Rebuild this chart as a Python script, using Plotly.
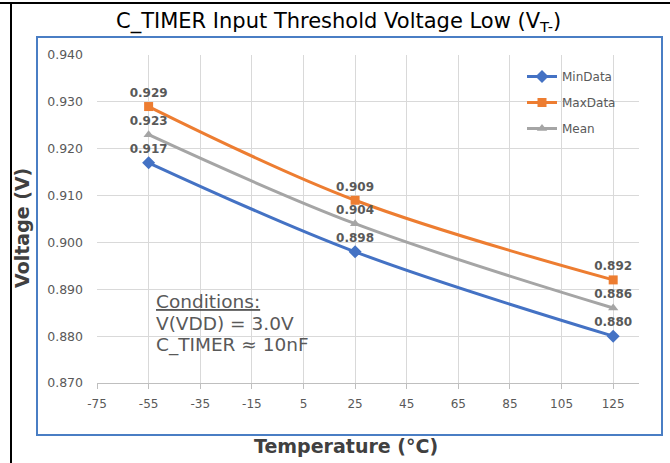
import plotly.graph_objects as go

temps = [-55, 25, 125]
min_data = [0.917, 0.898, 0.880]
max_data = [0.929, 0.909, 0.892]
mean_data = [0.923, 0.904, 0.886]
x_ticks = [-75, -55, -35, -15, 5, 25, 45, 65, 85, 105, 125]
y_ticks = [0.870, 0.880, 0.890, 0.900, 0.910, 0.920, 0.930, 0.940]
conditions = ["<u>Conditions:</u>", "V(VDD) = 3.0V", "C_TIMER ≈ 10nF"]

W, H = 670, 463
L, R, T, B = 97, 31, 55, 80
pw, ph = W - L - R, H - T - B


def px(x):
    return (x - L) / pw


def py(y):
    return (H - B - y) / ph


FONT = "DejaVu Sans"
series = [
    ("MinData", min_data, "#4472C4", "diamond", 10),
    ("MaxData", max_data, "#ED7D31", "square", 9),
    ("Mean", mean_data, "#A5A5A5", "triangle-up", 9),
]

fig = go.Figure()
for i, (name, vals, color, sym, ms) in enumerate(series):
    fig.add_trace(go.Scatter(
        x=temps, y=vals, name=name, mode="lines+markers+text",
        line=dict(color=color, width=3, shape="spline", smoothing=1),
        marker=dict(symbol=sym, size=ms, color=color),
        text=[f"{v:.3f}" for v in vals], textposition="top center",
        textfont=dict(family=FONT, size=12, color="#595959", weight="bold"),
        legendgroup=name, cliponaxis=False,
    ))

shapes = [
    # blue chart border
    dict(type="rect", xref="paper", yref="paper",
         x0=px(37), x1=px(662), y0=py(435), y1=py(37),
         line=dict(color="#4A7EC4", width=2), layer="below"),
    # black frame lines
    dict(type="line", xref="paper", yref="paper",
         x0=px(0), x1=px(670), y0=py(3), y1=py(3),
         line=dict(color="#000000", width=2)),
    dict(type="line", xref="paper", yref="paper",
         x0=px(11), x1=px(11), y0=py(2), y1=py(463),
         line=dict(color="#000000", width=2)),
]

annotations = [
    dict(text="C_TIMER Input Threshold Voltage Low (V<sub>T-</sub>)",
         x=px(338), y=py(22), xref="paper", yref="paper", showarrow=False,
         font=dict(family=FONT, size=21, color="#000000"),
         xanchor="center", yanchor="middle"),
    dict(text="<b>Voltage (V)</b>", textangle=-90,
         x=px(22), y=py(228), xref="paper", yref="paper", showarrow=False,
         font=dict(family=FONT, size=19, color="#404040"),
         xanchor="center", yanchor="middle"),
    dict(text="<b>Temperature (°C)</b>",
         x=px(346), y=py(446), xref="paper", yref="paper", showarrow=False,
         font=dict(family=FONT, size=19, color="#404040"),
         xanchor="center", yanchor="middle"),
]
for k, line in enumerate(conditions):
    annotations.append(dict(
        text=line, x=px(154), y=py(301 + 22 * k), xref="paper", yref="paper",
        showarrow=False, font=dict(family=FONT, size=18.5, color="#595959"),
        align="left", xanchor="left", yanchor="middle"))

fig.update_layout(
    width=W, height=H,
    margin=dict(l=L, r=R, t=T, b=B),
    paper_bgcolor="white", plot_bgcolor="white",
    showlegend=True,
    legend=dict(x=px(522), y=py(62), xanchor="left", yanchor="top",
                font=dict(family=FONT, size=12, color="#595959"),
                bgcolor="rgba(0,0,0,0)", itemwidth=30,
                traceorder="grouped", tracegroupgap=7),
    shapes=shapes, annotations=annotations,
    xaxis=dict(range=[-75, 135], tickvals=x_ticks,
               ticktext=[str(v) for v in x_ticks],
               showgrid=True, gridcolor="#D9D9D9", gridwidth=1,
               zeroline=False, showline=True, linecolor="#BFBFBF",
               ticks="outside", ticklen=5, tickcolor="#BFBFBF",
               tickfont=dict(family=FONT, size=12, color="#595959"),
               ticklabelstandoff=5),
    yaxis=dict(range=[0.870, 0.940], tickvals=y_ticks,
               ticktext=[f"{v:.3f}" for v in y_ticks],
               showgrid=True, gridcolor="#D9D9D9", gridwidth=1,
               zeroline=False, showline=False, ticks="",
               tickfont=dict(family=FONT, size=12.5, color="#595959"),
               ticklabelstandoff=13),
)

fig.write_html("out.html")
